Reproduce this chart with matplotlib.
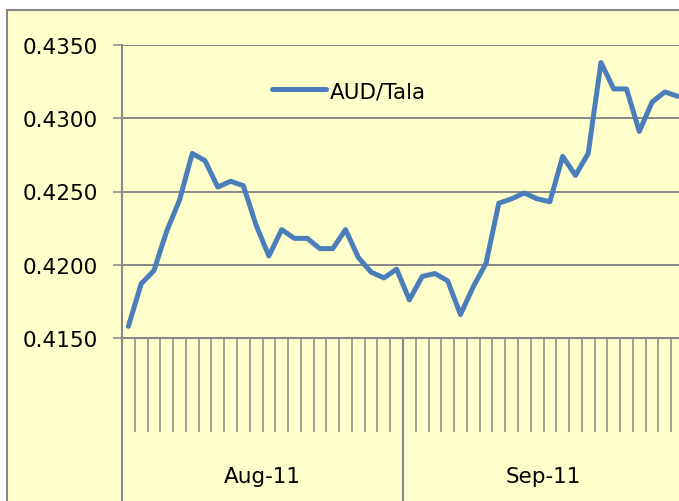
import numpy as np
import matplotlib
matplotlib.use("Agg")
import matplotlib.pyplot as plt
import matplotlib.transforms as mtransforms
from matplotlib.patches import Rectangle

# AUD/Tala daily rate, business days Aug-Sep 2011
aug_rates = [0.4158, 0.4187, 0.4196, 0.4223, 0.4244, 0.4276, 0.4271, 0.4253,
             0.4257, 0.4254, 0.4227, 0.4206, 0.4224, 0.4218, 0.4218, 0.4211,
             0.4211, 0.4224, 0.4205, 0.4195, 0.4191, 0.4197]
sep_rates = [0.4176, 0.4192, 0.4194, 0.4189, 0.4166, 0.4185, 0.4201, 0.4242,
             0.4245, 0.4249, 0.4245, 0.4243, 0.4274, 0.4261, 0.4276, 0.4338,
             0.4320, 0.4320, 0.4291, 0.4311, 0.4318, 0.4315]
months = ["Aug-11", "Sep-11"]
series_name = "AUD/Tala"
y_ticks = [0.4150, 0.4200, 0.4250, 0.4300, 0.4350]

rates = aug_rates + sep_rates
counts = [len(aug_rates), len(sep_rates)]

BG = "#FFFFCC"
GRID = "#878787"
LINE = "#4A7EBB"
FS = 15.5
plt.rcParams["font.family"] = ["DejaVu Sans"]

W, H = 679, 502
fig = plt.figure(figsize=(W / 100, H / 100), dpi=100, facecolor="white")

# chart area border (cropped on right and bottom)
fig.add_artist(Rectangle((7 / W, -0.1), 1.2, 1 - 11 / H + 0.1,
                         transform=fig.transFigure, facecolor=BG,
                         edgecolor=GRID, linewidth=1.5, zorder=-10))

left, right, top, bottom = 122, 684, 46, 339
ax = fig.add_axes([left / W, 1 - bottom / H, (right - left) / W, (bottom - top) / H])
ax.set_facecolor("none")

x = np.arange(len(rates))
line, = ax.plot(x, rates, color=LINE, linewidth=3.6, solid_joinstyle="round",
                solid_capstyle="round", label=series_name, zorder=3)

ax.set_xlim(-0.5, len(rates) - 0.5)
ax.set_ylim(y_ticks[0], y_ticks[-1])
ax.set_yticks(y_ticks)
ax.set_yticklabels([f"{v:.4f}" for v in y_ticks], fontsize=FS)
ax.yaxis.grid(True, color=GRID, linewidth=1.4)
ax.set_axisbelow(True)

ax.set_xticks(np.arange(-0.5, len(rates), 1))
ax.set_xticklabels([])
ax.tick_params(axis="x", direction="out", length=68, width=1.1, color=GRID)
ax.tick_params(axis="y", direction="out", length=6.5, width=1.1, color=GRID, pad=11)

for s in ["top", "right"]:
    ax.spines[s].set_visible(False)
for s in ["left", "bottom"]:
    ax.spines[s].set_color(GRID)
    ax.spines[s].set_linewidth(1.5)

# month group separators and labels
trans = mtransforms.blended_transform_factory(ax.transData, ax.transAxes)
edges = np.concatenate([[0], np.cumsum(counts)]) - 0.5
for e in edges:
    ax.plot([e, e], [0, -1], color=GRID, linewidth=1.5, transform=trans, clip_on=False)
for i, m in enumerate(months):
    ax.text((edges[i] + edges[i + 1]) / 2, -0.471, m, transform=trans,
            ha="center", va="center", fontsize=FS)

ax.legend(handles=[line], loc="center left", bbox_to_anchor=(0.267, 0.843),
          frameon=False, fontsize=FS, handlelength=2.5, handletextpad=0.2,
          borderpad=0, borderaxespad=0)

fig.savefig("out.png", dpi=100, facecolor="white")
